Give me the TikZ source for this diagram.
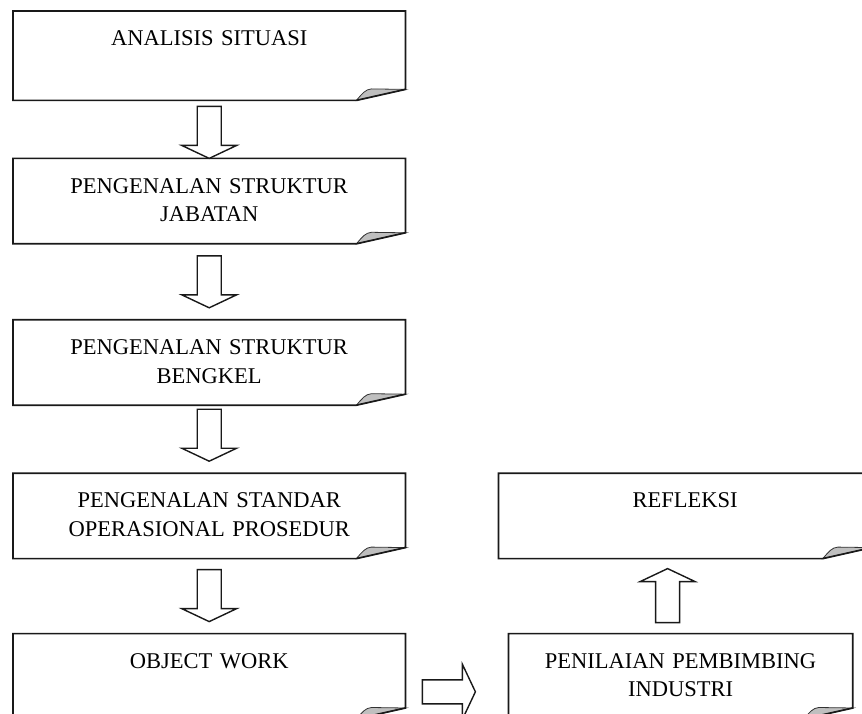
\documentclass[tikz,border=0pt]{standalone}
\usepackage{fontspec}
\setmainfont[WordSpace=0.6]{Liberation Serif}
\usetikzlibrary{positioning, calc}
\tikzset{
    notebox/.style={rectangle, text width=#1, align=center, inner sep=0pt, text height=34.5pt, text depth=50.5pt, font=\fontsize{22.5pt}{28.5pt}\selectfont},
    notebox/.default=392pt,
    noteline/.style={line width=1.7pt, draw=black!90, line join=miter},
    curl/.style={line width=0.8pt, draw=black!80, fill=black!25},
    hollow/.style={line width=1.4pt, draw=black!90, fill=white, line join=miter}
}

% box outline with the curled corner at the bottom right
\newcommand{\foldnote}[1]{%
    \filldraw[curl] ([xshift=-49pt]#1.south east) .. controls ([xshift=-43pt,yshift=7pt]#1.south east) and ([xshift=-40pt,yshift=11pt]#1.south east) .. ([xshift=-34pt,yshift=11.5pt]#1.south east) -- ([yshift=11pt]#1.south east) -- cycle;
    \draw[noteline] (#1.north west) -- (#1.north east) -- ([yshift=11pt]#1.south east) -- ([xshift=-49pt]#1.south east) -- (#1.south west) -- cycle;
}

% hollow block arrow from #1 to #2
\newcommand{\hollowarrow}[2]{%
    \coordinate (tail) at #1;
    \coordinate (tip) at #2;
    \coordinate (neck) at ($(tip)!13pt!(tail)$);
    \draw[hollow] ($(tail)!12pt!90:(tip)$) -- ($(neck)!12pt!90:(tip)$) -- ($(neck)!27.5pt!90:(tip)$) -- (tip)
        -- ($(neck)!27.5pt!-90:(tip)$) -- ($(neck)!12pt!-90:(tip)$) -- ($(tail)!12pt!-90:(tip)$) -- cycle;
}

\begin{document}
\begin{tikzpicture}[node distance=68pt]
    \useasboundingbox (0,0) rectangle (862pt,-714pt);
    \clip (0,0) rectangle (862pt,-714pt);

    \node[notebox, text depth=54.5pt, anchor=north west] (analisis) at (13pt,-11pt) {ANALISIS SITUASI};
    \node[notebox, below=58pt of analisis] (jabatan) {PENGENALAN STRUKTUR\\JABATAN};
    \node[notebox, below=76pt of jabatan] (bengkel) {PENGENALAN STRUKTUR\\BENGKEL};
    \node[notebox, below=68pt of bengkel] (standar) {PENGENALAN STANDAR\\OPERASIONAL PROSEDUR};
    \node[notebox, below=75pt of standar] (objek) {OBJECT WORK};
    \node[notebox=373pt, right=93pt of standar] (refleksi) {REFLEKSI};
    \node[notebox=344pt, right=103pt of objek] (penilaian) {PENILAIAN PEMBIMBING\\INDUSTRI};

    \foldnote{analisis}
    \foldnote{jabatan}
    \foldnote{bengkel}
    \foldnote{standar}
    \foldnote{objek}
    \foldnote{refleksi}
    \foldnote{penilaian}

    \hollowarrow{([yshift=-6pt]analisis.south)}{(jabatan.north)}
    \hollowarrow{([yshift=-12pt]jabatan.south)}{([yshift=12pt]bengkel.north)}
    \hollowarrow{([yshift=-4pt]bengkel.south)}{([yshift=12pt]standar.north)}
    \hollowarrow{([yshift=-11pt]standar.south)}{([yshift=12pt]objek.north)}

    \coordinate (upfoot) at ([shift={(-13pt,11pt)}]penilaian.north);
    \hollowarrow{(upfoot)}{([yshift=-10pt]upfoot |- refleksi.south)}
    \coordinate (sidefoot) at ([shift={(17pt,-15.5pt)}]objek.east);
    \hollowarrow{(sidefoot)}{([xshift=-33pt]penilaian.west |- sidefoot)}
\end{tikzpicture}
\end{document}
